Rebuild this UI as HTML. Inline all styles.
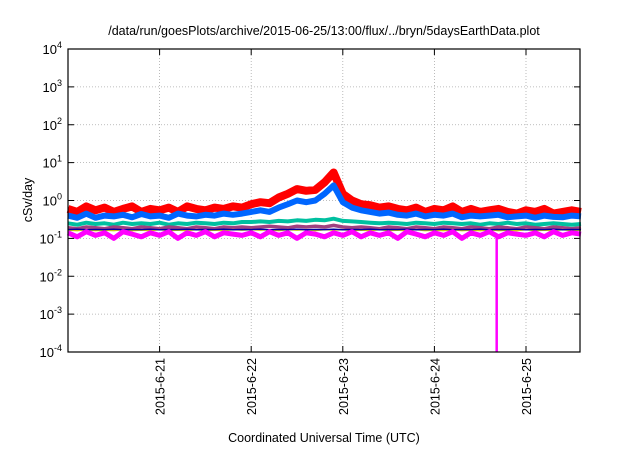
<!DOCTYPE html>
<html><head><meta charset="utf-8"><style>
body{margin:0;background:#fff;}
svg{font-family:"Liberation Sans",sans-serif;}
</style></head><body>
<svg id="chart" width="640" height="448" viewBox="0 0 640 448" xmlns="http://www.w3.org/2000/svg">
<text x="324" y="35" font-size="12.5" text-anchor="middle">/data/run/goesPlots/archive/2015-06-25/13:00/flux/../bryn/5daysEarthData.plot</text>
<text transform="translate(32,200) rotate(-90)" font-size="12.5" text-anchor="middle">cSv/day</text>
<text x="324" y="442" font-size="12.5" text-anchor="middle">Coordinated Universal Time (UTC)</text>
<g id="grid"></g><g id="series"></g><g id="axes"></g>
</svg>
<script>
const tickDays=[1,2,3,4,5];
const tickLabels=["2015-6-21","2015-6-22","2015-6-23","2015-6-24","2015-6-25"];
const yExps=[-4,-3,-2,-1,0,1,2,3,4];
const red=[0.6,0.5,0.7,0.55,0.65,0.5,0.6,0.7,0.5,0.6,0.55,0.65,0.5,0.7,0.6,0.55,0.65,0.6,0.7,0.65,0.8,0.9,0.85,1.2,1.5,2.0,1.8,1.9,3.0,5.5,1.5,1.0,0.8,0.75,0.65,0.7,0.6,0.55,0.65,0.5,0.6,0.55,0.7,0.5,0.6,0.5,0.55,0.6,0.5,0.45,0.55,0.5,0.6,0.45,0.5,0.55,0.5];
const blue=[0.4,0.35,0.45,0.35,0.4,0.38,0.42,0.36,0.44,0.38,0.4,0.35,0.45,0.4,0.38,0.42,0.4,0.45,0.42,0.45,0.5,0.55,0.5,0.65,0.8,1.0,0.9,1.0,1.5,2.5,0.9,0.65,0.55,0.5,0.45,0.48,0.42,0.4,0.45,0.38,0.42,0.4,0.45,0.36,0.4,0.38,0.4,0.42,0.36,0.38,0.4,0.35,0.4,0.37,0.36,0.4,0.38];
const teal=[0.25,0.23,0.26,0.24,0.25,0.23,0.26,0.24,0.25,0.24,0.26,0.23,0.25,0.24,0.26,0.25,0.24,0.26,0.25,0.27,0.27,0.28,0.27,0.29,0.28,0.3,0.29,0.31,0.3,0.33,0.29,0.28,0.27,0.26,0.25,0.26,0.25,0.24,0.26,0.25,0.24,0.26,0.25,0.24,0.25,0.23,0.25,0.24,0.26,0.24,0.25,0.23,0.24,0.25,0.24,0.23,0.24];
const purple=[0.19,0.18,0.2,0.19,0.18,0.2,0.19,0.18,0.2,0.19,0.18,0.2,0.19,0.18,0.2,0.19,0.18,0.2,0.19,0.2,0.19,0.2,0.21,0.2,0.19,0.21,0.2,0.21,0.2,0.22,0.2,0.19,0.2,0.19,0.18,0.2,0.19,0.18,0.2,0.19,0.18,0.2,0.19,0.18,0.2,0.19,0.18,0.2,0.19,0.18,0.2,0.19,0.18,0.2,0.19,0.18,0.19];
const yellow=[0.165,0.16,0.17,0.16,0.165,0.16,0.17,0.16,0.165,0.16,0.17,0.16,0.165,0.16,0.17,0.16,0.165,0.16,0.17,0.165,0.17,0.165,0.17,0.16,0.17,0.165,0.17,0.16,0.17,0.165,0.17,0.16,0.165,0.16,0.17,0.16,0.165,0.16,0.17,0.16,0.165,0.16,0.17,0.16,0.165,0.16,0.17,0.16,0.165,0.16,0.17,0.16,0.165,0.16,0.17,0.16,0.165];
const navy=[0.17,0.175,0.168,0.172,0.17,0.175,0.168,0.172,0.17,0.175,0.168,0.172,0.17,0.175,0.168,0.172,0.17,0.175,0.168,0.172,0.17,0.175,0.168,0.172,0.17,0.175,0.168,0.172,0.17,0.175,0.168,0.172,0.17,0.175,0.168,0.172,0.17,0.175,0.168,0.172,0.17,0.175,0.168,0.172,0.17,0.175,0.168,0.172,0.17,0.175,0.168,0.172,0.17,0.175,0.168,0.172,0.17];
const magenta=[0.14,0.11,0.15,0.12,0.14,0.1,0.15,0.13,0.11,0.14,0.12,0.15,0.1,0.14,0.12,0.15,0.11,0.14,0.13,0.12,0.14,0.11,0.15,0.12,0.14,0.1,0.14,0.13,0.11,0.14,0.12,0.15,0.11,0.14,0.12,0.14,0.1,0.15,0.13,0.11,0.14,0.12,0.15,0.1,0.14,0.12,0.15,0.11,0.14,0.13,0.12,0.14,0.11,0.15,0.12,0.14,0.13];
const magentaDropDay=4.68;
const magentaDropValue=0.0001;
const dayStep=0.1;

const L=68,R=580,T=49,B=352,dayW=91.6;
const NS="http://www.w3.org/2000/svg";
const xs=d=>L+d*dayW;
const ys=v=>B-(Math.log10(v)+4)*(B-T)/8;
function mk(tag,attrs,parent){const e=document.createElementNS(NS,tag);for(const k in attrs)e.setAttribute(k,attrs[k]);parent.appendChild(e);return e;}
const grid=document.getElementById('grid'),ser=document.getElementById('series'),ax=document.getElementById('axes');
yExps.forEach(p=>{const y=ys(Math.pow(10,p));
 if(p>-4&&p<4){const g=mk('line',{x1:L,x2:R,y1:y,y2:y,stroke:'#aaa','stroke-width':0.8,'stroke-dasharray':'1,2'},grid);
 
 }
 mk('line',{x1:L,x2:L+6,y1:y,y2:y,stroke:'#000'},ax);mk('line',{x1:R-6,x2:R,y1:y,y2:y,stroke:'#000'},ax);
 const t=mk('text',{x:L-6,y:y+5,'font-size':13,'text-anchor':'end'},ax);
 
 
 t.innerHTML='10<tspan dy="-6" font-size="9">'+p+'</tspan>';
});
tickDays.forEach((d,i)=>{const x=xs(d);
 const g=mk('line',{x1:x,x2:x,y1:T,y2:B,stroke:'#aaa','stroke-width':0.8,'stroke-dasharray':'1,2'},grid);
 
 
 mk('line',{x1:x,x2:x,y1:B,y2:B-6,stroke:'#000'},ax);mk('line',{x1:x,x2:x,y1:T,y2:T+6,stroke:'#000'},ax);
 const t=mk('text',{transform:`translate(${x+5},${B+6}) rotate(-90)`,'font-size':12.5,'text-anchor':'end'},ax);
 
 
 t.textContent=tickLabels[i];
});
const fr=mk('rect',{x:L,y:T,width:R-L,height:B-T,fill:'none',stroke:'#000','stroke-width':1.2},ax);


function line(vals,color,name,w){
 const pts=vals.map((v,i)=>xs(i*dayStep).toFixed(1)+','+ys(v).toFixed(1)).join(' ');
 const p=mk('polyline',{points:pts,fill:'none',stroke:color,'stroke-width':w,'stroke-linejoin':'round'},ser);
 
 
}
line(red,'#ff0000','series-red',8);
line(blue,'#0066ff','series-blue',6);
line(teal,'#00c0a0','series-teal',4);
line(purple,'#a04080','series-purple',3.5);
line(yellow,'#e0e000','series-yellow',1.5);
line(navy,'#0000a0','series-navy',1.5);
line(magenta,'#ff00ff','series-magenta',5);
const drop=mk('line',{x1:xs(magentaDropDay),x2:xs(magentaDropDay),y1:ys(0.13),y2:ys(magentaDropValue),stroke:'#ff00ff','stroke-width':2.5},ser);


</script>
</body></html>
